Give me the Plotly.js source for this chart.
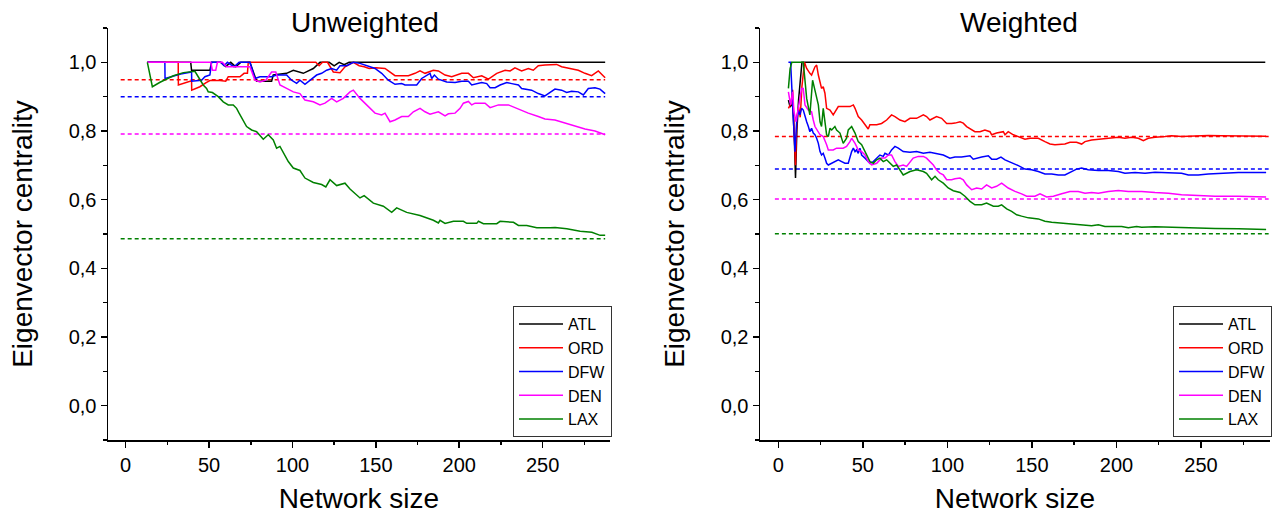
<!DOCTYPE html>
<html>
<head>
<meta charset="utf-8">
<script src="https://cdn.plot.ly/plotly-3.0.1.min.js"></script>
<style>html,body{margin:0;padding:0;background:#fff;}#chart{width:1274px;height:518px;}</style>
</head>
<body>
<div id="chart"></div>
<script>
// ---------- data ----------
const seriesNames = ['ATL', 'ORD', 'DFW', 'DEN', 'LAX'];
const seriesColors = ['#000000', '#ff0000', '#0000ff', '#ff00ff', '#008000'];
const panelTitles = ['Unweighted', 'Weighted'];

// Unweighted: [network size, eigenvector centrality]
const uwATL = [[13,1],[39,1],[39.5,0.977],[50.5,0.977],[51.5,1],[57,1],[60,0.988],[63,1],[66,0.987],[69,1],[74.5,1],[77.5,0.963],[78.5,0.945],[87.5,0.945],[88.5,0.963],[96.5,0.968],[100.5,0.977],[106.5,0.968],[112.5,0.982],[116.5,1],[122,1],[125,0.99],[128,1],[131,0.993],[134,1],[137,1],[287.5,1]];
const uwORD = [[13,1],[31.5,1],[31.6,0.934],[37.5,0.943],[39.5,0.946],[39.6,0.919],[44.5,0.929],[48,0.94],[50.5,0.947],[56.5,0.947],[60,0.945],[61.5,0.958],[68.5,0.958],[71,0.968],[73,0.968],[73.5,1],[114,1],[116,0.99],[118,1],[121,1],[124.5,0.972],[128.5,0.97],[131.5,0.987],[136.5,1],[140,0.99],[143,0.987],[146,0.982],[150,0.984],[155.5,0.982],[161.5,0.961],[169.5,0.961],[173.5,0.968],[176.5,0.975],[179.5,0.968],[184.5,0.977],[187.5,0.975],[191.5,0.963],[195.5,0.958],[201.5,0.968],[205.5,0.968],[208.5,0.955],[213.5,0.961],[217.5,0.951],[222.5,0.968],[227.5,0.977],[230.5,0.975],[233.4,0.984],[237.4,0.975],[241.4,0.982],[244.4,0.977],[247.4,0.99],[251.4,0.992],[255.4,0.994],[258.4,0.994],[261.4,0.987],[267.4,0.982],[271.4,0.977],[275.4,0.968],[279.4,0.961],[283.4,0.975],[287.5,0.955]];
const uwDFW = [[13,1],[23.5,1],[23.6,0.953],[28,0.96],[33,0.966],[39.5,0.972],[39.6,0.945],[45.5,0.948],[47.5,0.958],[50.5,0.963],[51.5,1],[57,1],[59,0.99],[61,1],[65,0.987],[68,1],[74.5,1],[77.5,0.953],[80.5,0.958],[87.5,0.958],[90.5,0.963],[96.5,0.963],[99.5,0.948],[102.5,0.939],[104.5,0.948],[107.5,0.936],[110.5,0.948],[114.5,0.963],[117.5,0.968],[120.5,0.977],[123.5,0.982],[126.5,0.977],[128.5,0.99],[132.5,0.99],[136.5,1],[140.5,0.997],[146.5,0.987],[149.5,0.982],[153.5,0.968],[157.5,0.948],[161.5,0.936],[165.5,0.938],[167.5,0.934],[174.5,0.934],[177.5,0.953],[180.5,0.963],[182.5,0.968],[183.5,0.953],[185.1,0.963],[187.5,0.951],[192.5,0.943],[197.5,0.941],[201.5,0.945],[205.5,0.945],[207.5,0.934],[213.5,0.941],[216.5,0.938],[218.5,0.926],[221.5,0.926],[224.5,0.934],[228.5,0.941],[231.5,0.938],[235.5,0.934],[237.4,0.924],[243.4,0.919],[247.4,0.909],[251.4,0.902],[253.4,0.909],[257.4,0.922],[261.4,0.919],[264.4,0.912],[267.4,0.916],[271.4,0.914],[274.4,0.905],[277.4,0.924],[281.4,0.926],[284.4,0.922],[287.5,0.909]];
const uwDEN = [[13,1],[51,1],[52,0.977],[54,0.977],[55,1],[58,1],[60.5,0.987],[74.5,0.987],[77.5,0.948],[80.5,0.943],[84,0.948],[87.5,0.972],[90,0.972],[92.5,0.934],[96.5,0.924],[100.5,0.914],[104.5,0.909],[107.5,0.89],[112.5,0.885],[116.5,0.876],[119.5,0.881],[123.5,0.895],[126.5,0.885],[130.5,0.895],[134.5,0.914],[136.5,0.919],[140.5,0.895],[146.5,0.866],[149.5,0.852],[153.5,0.847],[155.5,0.852],[158.5,0.827],[161.5,0.832],[165.5,0.842],[169.5,0.842],[172.5,0.856],[176.5,0.866],[179.5,0.856],[182.5,0.849],[187.5,0.856],[191.5,0.844],[193.5,0.85],[197.5,0.852],[200.5,0.866],[202.5,0.881],[205.5,0.886],[207.5,0.876],[209.5,0.881],[215.5,0.881],[218.5,0.868],[223.5,0.876],[229.5,0.876],[235.4,0.864],[241.4,0.852],[247.4,0.842],[251.4,0.835],[257.4,0.832],[264.4,0.822],[269.4,0.813],[275.4,0.806],[281.4,0.8],[285.4,0.794],[287.5,0.789]];
const uwLAX = [[13,1],[16,0.929],[20.6,0.942],[24.6,0.951],[28.6,0.961],[34.6,0.97],[41.5,0.974],[43.5,0.958],[46.5,0.934],[48.5,0.924],[49.5,0.914],[52,0.912],[55.5,0.9],[58.5,0.885],[61.5,0.876],[64.5,0.876],[66.5,0.866],[68,0.852],[70.5,0.832],[72.5,0.813],[75.5,0.803],[78.5,0.798],[82.5,0.776],[85.5,0.789],[88.5,0.774],[90.5,0.75],[92.5,0.755],[97.5,0.711],[100.5,0.692],[104.5,0.685],[107.5,0.663],[112.5,0.65],[117.5,0.644],[120,0.637],[122.5,0.658],[126.5,0.641],[131.5,0.648],[134.5,0.631],[140.5,0.605],[143,0.612],[148.5,0.59],[154.5,0.581],[159.5,0.563],[162.5,0.576],[168.5,0.563],[176.5,0.554],[184.5,0.54],[187.5,0.532],[188.5,0.54],[191.5,0.531],[196.5,0.537],[202.5,0.537],[204.5,0.531],[210.5,0.531],[211.5,0.537],[214.5,0.53],[222.5,0.53],[224.5,0.537],[232.5,0.534],[235.5,0.525],[240.5,0.525],[246.5,0.518],[254.5,0.518],[257.5,0.519],[264.5,0.515],[272.5,0.508],[279.5,0.505],[284.5,0.496],[287.5,0.496]];

// Weighted
const wATL = [[6,0.89],[7,0.87],[8.5,0.88],[9.5,0.78],[10.2,0.663],[11,0.8],[12,0.89],[13,0.95],[14,1],[288,1]];
const wORD = [[6,0.866],[7.5,0.88],[8.5,0.92],[9.5,0.8],[10.2,0.7],[11,0.84],[12,0.87],[13,0.84],[14,0.93],[15.5,1],[16.8,0.982],[18.7,0.968],[19.7,0.963],[21.7,0.987],[22.7,0.992],[23.7,0.963],[24.7,0.939],[25.6,0.924],[26.6,0.929],[27.6,0.91],[28.6,0.866],[30.6,0.861],[32.5,0.847],[34.5,0.861],[35.5,0.871],[42.4,0.871],[44.4,0.876],[45.4,0.866],[47.3,0.842],[49.3,0.832],[51.3,0.818],[53.2,0.806],[54.2,0.818],[58.2,0.818],[61.1,0.822],[64.1,0.832],[67,0.847],[69,0.842],[72,0.832],[74.9,0.827],[77.9,0.837],[81.8,0.837],[85.8,0.847],[87.7,0.842],[89.7,0.832],[91.7,0.837],[93.6,0.842],[96.6,0.837],[99.6,0.822],[102.5,0.822],[104.5,0.823],[107.5,0.827],[109.4,0.823],[111.4,0.813],[116.3,0.798],[119.3,0.798],[122.2,0.803],[125.2,0.798],[126.2,0.789],[129.1,0.794],[133.1,0.798],[134.1,0.789],[136,0.798],[139,0.789],[141.9,0.784],[145.9,0.776],[148.9,0.779],[153.8,0.779],[157.7,0.769],[160.7,0.762],[163.6,0.76],[166.6,0.76],[169.5,0.762],[172.5,0.767],[176.4,0.767],[179.4,0.762],[181.4,0.769],[185.3,0.774],[189.3,0.776],[193.2,0.779],[197.1,0.779],[201.1,0.782],[205,0.779],[209,0.782],[212.9,0.779],[215.9,0.772],[218.8,0.779],[222.8,0.782],[228.7,0.784],[232.6,0.786],[238.5,0.784],[246.4,0.786],[254.3,0.787],[262.2,0.786],[272.1,0.785],[281.9,0.785],[288.5,0.785]];
const wDFW = [[6,1],[7.3,1],[8.5,0.876],[9.9,0.74],[10.9,0.827],[11.8,0.861],[12.8,0.847],[13.8,0.866],[14.8,0.861],[15.8,0.842],[16.8,0.827],[17.8,0.813],[18.7,0.798],[19.7,0.808],[20.7,0.794],[21.7,0.789],[22.7,0.779],[23.7,0.764],[24.7,0.74],[25.6,0.73],[26.6,0.735],[27.6,0.721],[28.6,0.706],[29.6,0.701],[31.6,0.706],[33.5,0.711],[35.5,0.716],[37.5,0.711],[39.4,0.706],[41.4,0.706],[42.4,0.726],[43.4,0.74],[44.4,0.75],[45.4,0.74],[46.3,0.745],[47.3,0.735],[48.3,0.75],[49.3,0.73],[51.3,0.721],[54.2,0.706],[56.2,0.711],[58.2,0.721],[60.1,0.73],[62.1,0.726],[63.1,0.735],[65.1,0.73],[67,0.745],[69,0.755],[71,0.75],[73.9,0.74],[77.9,0.738],[81.8,0.74],[85.8,0.735],[89.7,0.738],[93.6,0.735],[97.6,0.73],[101.5,0.721],[104.5,0.724],[108.4,0.724],[111.4,0.726],[113.4,0.728],[115.3,0.718],[117.3,0.721],[120.3,0.724],[124.2,0.728],[126.2,0.718],[129.1,0.718],[131.7,0.724],[134.1,0.716],[138,0.708],[142,0.699],[145.9,0.689],[149.8,0.687],[153.8,0.682],[157.7,0.675],[161.7,0.675],[165.6,0.672],[169.5,0.672],[173.5,0.682],[176.4,0.689],[179.4,0.692],[183.3,0.687],[189.3,0.685],[195.2,0.685],[201.1,0.682],[205,0.677],[211,0.679],[216.9,0.677],[222.8,0.68],[232.6,0.679],[238.5,0.677],[242.5,0.672],[248.4,0.672],[254.3,0.675],[262.2,0.677],[272.1,0.679],[281.9,0.679],[288.5,0.679]];
const wDEN = [[6,0.914],[7.3,0.876],[8.5,0.914],[9.3,0.856],[10.5,0.827],[11.8,0.866],[13.8,0.924],[14.8,0.924],[15.8,0.876],[17.8,0.861],[19.7,0.856],[20.7,0.832],[21.7,0.813],[24.7,0.789],[26.6,0.784],[28.6,0.76],[29.6,0.745],[32.5,0.745],[34.5,0.75],[38.4,0.75],[40.4,0.755],[42.4,0.769],[43.4,0.779],[45.4,0.764],[47.3,0.745],[49.3,0.74],[51.3,0.73],[53.2,0.711],[55.2,0.701],[58.2,0.706],[61.1,0.721],[63.1,0.721],[65.1,0.73],[67,0.73],[69,0.711],[71,0.697],[73.9,0.701],[75.9,0.697],[77.9,0.711],[79.8,0.721],[82.8,0.726],[85.8,0.726],[87.7,0.721],[89.7,0.711],[91.7,0.701],[93.6,0.687],[95.6,0.677],[97.6,0.672],[99.6,0.658],[102.5,0.658],[104.5,0.661],[107.5,0.663],[109.4,0.658],[111.4,0.643],[114.4,0.629],[117.3,0.634],[120.3,0.631],[123.2,0.643],[126.2,0.634],[129.1,0.639],[132.1,0.648],[136,0.634],[140,0.624],[143.9,0.617],[146.9,0.61],[151.8,0.61],[154.8,0.617],[158.7,0.608],[162.7,0.61],[167.6,0.617],[172.5,0.624],[177.4,0.624],[181.4,0.619],[185.3,0.621],[189.3,0.619],[195.2,0.624],[201.1,0.627],[207,0.624],[214.9,0.624],[222.8,0.621],[230.7,0.619],[238.5,0.614],[246.4,0.612],[258.3,0.61],[272.1,0.61],[288.5,0.608]];
const wLAX = [[6,0.924],[7,0.982],[8,1],[14.8,1],[16.8,0.895],[18.7,0.847],[20.3,0.948],[21.7,0.914],[23.7,0.876],[24.7,0.827],[25.6,0.813],[26.6,0.866],[27.6,0.827],[28.6,0.789],[29.6,0.784],[30.6,0.808],[31.6,0.803],[33.5,0.813],[34.5,0.803],[36.5,0.794],[38.4,0.764],[40.4,0.779],[41.4,0.803],[43.4,0.813],[45.4,0.794],[47.3,0.769],[49.3,0.76],[51.3,0.74],[52.3,0.726],[54.2,0.711],[56.2,0.706],[58.2,0.716],[60.1,0.721],[62.1,0.711],[64.1,0.716],[66,0.706],[68,0.697],[70,0.701],[72,0.687],[73.9,0.672],[77.9,0.682],[81.8,0.687],[85.8,0.682],[87.7,0.677],[90.7,0.658],[92.7,0.668],[94.6,0.658],[97.6,0.648],[100.5,0.634],[103.5,0.626],[107.5,0.621],[110.4,0.61],[113.4,0.595],[116.3,0.585],[120.3,0.585],[123.2,0.59],[127.2,0.581],[130.1,0.581],[132.1,0.585],[135.1,0.573],[138,0.566],[141,0.556],[143.9,0.552],[147.9,0.547],[153.8,0.544],[157.7,0.537],[161.7,0.534],[167.6,0.532],[173.5,0.53],[179.4,0.527],[185.3,0.524],[189.3,0.527],[193.2,0.522],[203.1,0.522],[207,0.518],[211.9,0.522],[214.9,0.52],[222.8,0.521],[230.7,0.52],[238.5,0.518],[246.4,0.516],[258.3,0.516],[272.1,0.515],[288.5,0.513]];

// Dashed reference levels (ORD, DFW, DEN, LAX) and their x extent
const uwRefLevels = [0.949, 0.900, 0.791, 0.486];
const wRefLevels = [0.784, 0.689, 0.602, 0.501];
const uwRefX = [-3, 287.5];
const wRefX = [-2, 290];
const refColors = ['#ff0000', '#0000ff', '#ff00ff', '#008000'];

const uwSeries = [uwATL, uwORD, uwDFW, uwDEN, uwLAX];
const wSeries = [wATL, wORD, wDFW, wDEN, wLAX];

// ---------- traces ----------
const traces = [];
function addRefs(levels, xr, xa, ya) {
  levels.forEach((lv, i) => {
    traces.push({
      x: xr, y: [lv, lv], xaxis: xa, yaxis: ya, mode: 'lines', showlegend: false, hoverinfo: 'skip',
      line: {color: refColors[i], width: 1.5, dash: '4px,3px'}
    });
  });
}
addRefs(uwRefLevels, uwRefX, 'x', 'y');
addRefs(wRefLevels, wRefX, 'x2', 'y2');

function addSeries(list, xa, ya, legendId) {
  list.forEach((pts, i) => {
    traces.push({
      x: pts.map(p => p[0]), y: pts.map(p => p[1]),
      xaxis: xa, yaxis: ya, mode: 'lines', name: seriesNames[i],
      legend: legendId, line: {color: seriesColors[i], width: 1.5}
    });
  });
}
addSeries(uwSeries, 'x', 'y', 'legend');
addSeries(wSeries, 'x2', 'y2', 'legend2');

// ---------- layout ----------
const W = 1274, H = 518;
const font = {family: 'Liberation Sans, Arial, sans-serif', color: '#000'};

function xAxis(domain, range) {
  return {
    domain: domain, range: range, showline: true, linecolor: '#000', linewidth: 1.5,
    ticks: 'outside', ticklen: 6, tickwidth: 1.5, tickcolor: '#000',
    tick0: 0, dtick: 50, showgrid: false, zeroline: false,
    tickfont: {size: 20},
    minor: {tick0: 0, dtick: 25, ticks: 'outside', ticklen: 3.5, tickwidth: 1.5, tickcolor: '#000', showgrid: false},
    title: {text: 'Network size', font: {size: 28}, standoff: 14},
    automargin: false, fixedrange: true
  };
}
function yAxis(anchor) {
  return {
    domain: [78 / H, 490 / H], range: [-0.1, 1.1], anchor: anchor,
    showline: true, linecolor: '#000', linewidth: 1.5,
    ticks: 'outside', ticklen: 6, tickwidth: 1.5, tickcolor: '#000',
    tick0: 0, dtick: 0.2, tickformat: '.1f', showgrid: false, zeroline: false,
    tickfont: {size: 20},
    minor: {tick0: 0, dtick: 0.1, ticks: 'outside', ticklen: 3.5, tickwidth: 1.5, tickcolor: '#000', showgrid: false},
    title: {text: 'Eigenvector centrality', font: {size: 28}, standoff: 28},
    automargin: false, fixedrange: true
  };
}
function legendBox(rightPx) {
  return {
    x: rightPx / W, xanchor: 'right', y: 81 / H, yanchor: 'bottom',
    bgcolor: '#fff', bordercolor: '#333', borderwidth: 1,
    font: {size: 16}, traceorder: 'normal', tracegroupgap: 0, itemwidth: 44
  };
}

const layout = {
  width: W, height: H, margin: {l: 0, r: 0, t: 0, b: 0},
  paper_bgcolor: '#fff', plot_bgcolor: '#fff', font: font, separators: ',.',
  showlegend: true,
  xaxis: xAxis([108 / W, 610 / W], [-10.6, 290.4]),
  yaxis: yAxis('x'),
  xaxis2: xAxis([760 / W, 1270 / W], [-10.8, 290.8]),
  yaxis2: yAxis('x2'),
  legend: legendBox(612),
  legend2: legendBox(1272),
  annotations: [
    {text: panelTitles[0], xref: 'paper', yref: 'paper', x: 365 / W, y: 1 - 22 / H, xanchor: 'center', yanchor: 'middle', showarrow: false, font: {size: 28}},
    {text: panelTitles[1], xref: 'paper', yref: 'paper', x: 1019 / W, y: 1 - 22 / H, xanchor: 'center', yanchor: 'middle', showarrow: false, font: {size: 28}}
  ]
};
layout.xaxis.anchor = 'y';
layout.xaxis2.anchor = 'y2';

Plotly.newPlot('chart', traces, layout, {staticPlot: true, displayModeBar: false});
</script>
</body>
</html>
